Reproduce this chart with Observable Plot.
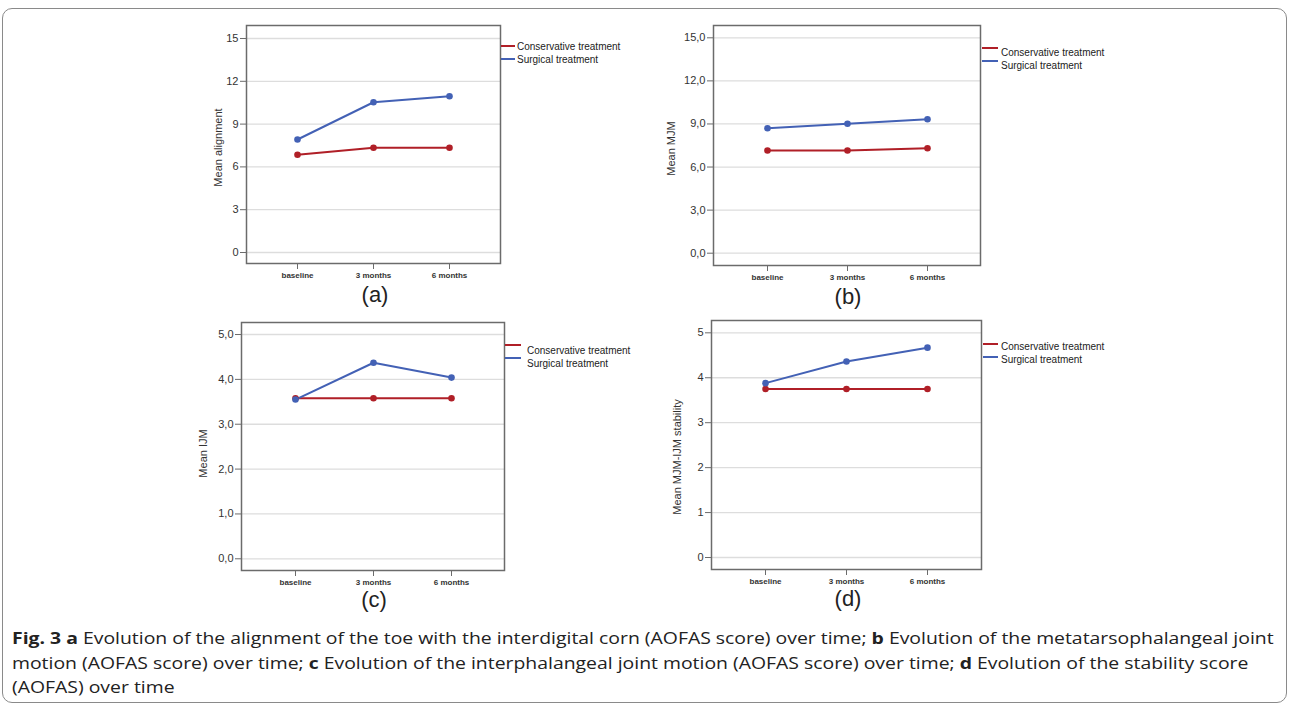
<!DOCTYPE html>
<html><head><meta charset="utf-8">
<script src="https://cdn.jsdelivr.net/npm/d3@7"></script>
<script src="https://cdn.jsdelivr.net/npm/@observablehq/plot@0.6"></script>
<style>
body{margin:0;background:#fff;width:1290px;height:711px;overflow:hidden;position:relative;font-family:"Liberation Sans",Arial,sans-serif}
#box{position:absolute;left:2px;top:8px;width:1285px;height:695px;border:1px solid #8a8a8a;border-radius:10px;box-sizing:border-box}
.panel{position:absolute}
.legend{position:absolute;font-size:10px;color:#222;font-family:"Liberation Sans",Arial,sans-serif}
.legend .row{position:relative;white-space:nowrap;height:13px;line-height:13px}
.legend .sw{position:absolute;left:0;height:2px}
.plabel{position:absolute;font-size:22px;color:#222;transform:translate(-50%,-50%);font-family:"Liberation Sans",Arial,sans-serif}
#caption{position:absolute;left:12px;top:626px;font-family:"Open Sans",sans-serif;font-size:16.5px;line-height:24.5px;color:#222;white-space:nowrap;transform:scaleX(1.175);transform-origin:0 0}
#caption b{font-weight:700}
</style>
</head><body>
<div id="box"></div>
<div id="root"></div>
<div id="caption"><b>Fig. 3 a</b> Evolution of the alignment of the toe with the interdigital corn (AOFAS score) over time; <b>b</b> Evolution of the metatarsophalangeal joint<br>motion (AOFAS score) over time; <b>c</b> Evolution of the interphalangeal joint motion (AOFAS score) over time; <b>d</b> Evolution of the stability score<br>(AOFAS) over time</div>
<script>
// ---- data ----
const timepoints = ["baseline", "3 months", "6 months"];
const seriesNames = ["Conservative treatment", "Surgical treatment"];
const seriesColors = ["#b01f27", "#4361b5"];

const alignConservative = [6.85, 7.34, 7.34];
const alignSurgical = [7.92, 10.53, 10.95];
const mjmConservative = [7.15, 7.15, 7.31];
const mjmSurgical = [8.70, 9.01, 9.33];
const ijmConservative = [3.58, 3.58, 3.58];
const ijmSurgical = [3.55, 4.37, 4.04];
const stabConservative = [3.75, 3.75, 3.75];
const stabSurgical = [3.88, 4.36, 4.67];

const ticksA = [0, 3, 6, 9, 12, 15];
const ticksB = [0, 3, 6, 9, 12, 15];
const ticksC = [0, 1, 2, 3, 4, 5];
const ticksD = [0, 1, 2, 3, 4, 5];

const panelLetters = ["(a)", "(b)", "(c)", "(d)"];
const yLabels = ["Mean alignment", "Mean MJM", "Mean IJM", "Mean MJM-IJM stability"];

const intFmt = d => String(d);
const commaFmt = d => d.toFixed(1).replace(".", ",");

// ---- layout ----
const panels = [
  {cons: alignConservative, surg: alignSurgical, ticks: ticksA, fmt: intFmt, label: yLabels[0],
   left: 180, top: 15, width: 330, height: 273, ml: 66, mr: 10, mt: 10, mb: 25, yDomain: [-0.771, 15.911], lab: [-28, 3],
   legend: {x: 501, y: 40, sw: 14, gap: 2, off: -0.7}, letter: panelLetters[0], letterPos: [375, 295]},
  {cons: mjmConservative, surg: mjmSurgical, ticks: ticksB, fmt: commaFmt, label: yLabels[1],
   left: 645, top: 15, width: 345, height: 275, ml: 68, mr: 10, mt: 10, mb: 25, yDomain: [-0.857, 15.857], lab: [-42, 3],
   legend: {x: 982, y: 46, sw: 16, gap: 3, off: -4.4}, letter: panelLetters[1], letterPos: [848, 297]},
  {cons: ijmConservative, surg: ijmSurgical, ticks: ticksC, fmt: commaFmt, label: yLabels[2],
   left: 180, top: 312, width: 334, height: 283, ml: 61, mr: 10, mt: 10, mb: 25, yDomain: [-0.261, 5.268], lab: [-38, 7],
   legend: {x: 505, y: 344, sw: 16, gap: 6, off: -5.5}, letter: panelLetters[2], letterPos: [374, 600]},
  {cons: stabConservative, surg: stabSurgical, ticks: ticksD, fmt: intFmt, label: yLabels[3],
   left: 645, top: 310, width: 346, height: 284, ml: 66, mr: 10, mt: 10, mb: 25, yDomain: [-0.267, 5.274], lab: [-34, 12],
   legend: {x: 983, y: 340, sw: 15, gap: 3, off: -3}, letter: panelLetters[3], letterPos: [848, 599]}
];

const root = document.getElementById("root");
panels.forEach(p => {
  const rows = [];
  timepoints.forEach((t, i) => rows.push({t, v: p.cons[i], s: seriesNames[0]}));
  timepoints.forEach((t, i) => rows.push({t, v: p.surg[i], s: seriesNames[1]}));
  const chart = Plot.plot({
    width: p.width, height: p.height,
    marginLeft: p.ml, marginRight: p.mr, marginTop: p.mt, marginBottom: p.mb,
    style: {fontFamily: "Liberation Sans, Arial, sans-serif", background: "transparent", color: "#333", overflow: "visible"},
    x: {type: "point", domain: timepoints, padding: 0.665},
    y: {domain: p.yDomain},
    color: {domain: seriesNames, range: seriesColors},
    marks: [
      Plot.gridY(p.ticks, {stroke: "#dddddd", strokeOpacity: 1, strokeWidth: 1.3}),
      Plot.frame({stroke: "#6b6b6b", strokeWidth: 1.5}),
      Plot.axisY(p.ticks, {tickFormat: p.fmt, tickSize: 6, tickPadding: 2, fontSize: 11, stroke: "#6b6b6b", label: null}),
      Plot.text([p.label], {frameAnchor: "left", rotate: -90, dx: p.lab[0], dy: p.lab[1], fontSize: 11, fill: "#333", textAnchor: "middle"}),
      Plot.axisX({tickSize: 6, tickPadding: 3, fontSize: 8, fontWeight: "bold", stroke: "#6b6b6b", label: null}),
      Plot.line(rows, {x: "t", y: "v", stroke: "s", strokeWidth: 2}),
      Plot.dot(rows, {x: "t", y: "v", fill: "s", r: 3.3})
    ]
  });
  const wrap = document.createElement("div");
  wrap.className = "panel";
  wrap.style.left = p.left + "px";
  wrap.style.top = p.top + "px";
  wrap.appendChild(chart);
  root.appendChild(wrap);

  const L = p.legend;
  const lg = document.createElement("div");
  lg.className = "legend";
  lg.style.left = L.x + "px";
  lg.style.top = L.y + "px";
  seriesNames.forEach((n, i) => {
    const r = document.createElement("div");
    r.className = "row";
    r.style.paddingLeft = (L.sw + L.gap) + "px";
    const sw = document.createElement("span");
    sw.className = "sw";
    sw.style.width = L.sw + "px";
    sw.style.top = (6.5 + L.off - 1) + "px";
    sw.style.background = seriesColors[i];
    r.appendChild(sw);
    r.appendChild(document.createTextNode(n));
    lg.appendChild(r);
  });
  root.appendChild(lg);

  const lt = document.createElement("div");
  lt.className = "plabel";
  lt.style.left = p.letterPos[0] + "px";
  lt.style.top = p.letterPos[1] + "px";
  lt.textContent = p.letter;
  root.appendChild(lt);
});
</script>
</body></html>
